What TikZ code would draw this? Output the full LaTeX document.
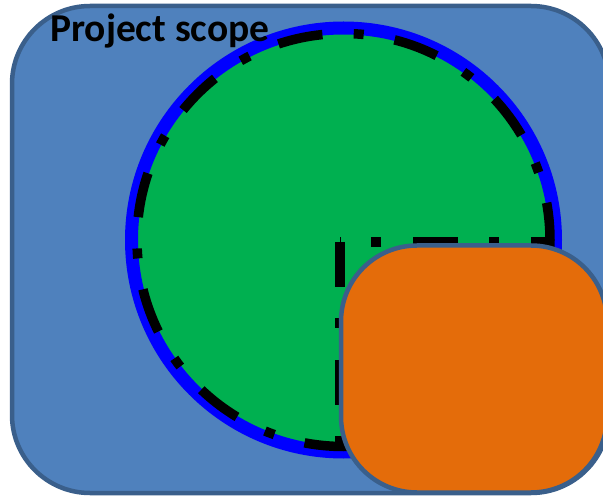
\documentclass[tikz,border=0pt]{standalone}
\usepackage{fontspec}
\setmainfont{Carlito}
\definecolor{scopefill}{HTML}{4F81BD}
\definecolor{scopeedge}{HTML}{3A5F8B}
\definecolor{ringblue}{HTML}{0000FF}
\definecolor{discgreen}{HTML}{00B050}
\definecolor{boxorange}{HTML}{E46C0A}
\tikzset{
  scopebox/.style={fill=scopefill, draw=scopeedge, line width=4.5pt, rounded corners=78pt},
  ringline/.style={fill=discgreen, draw=ringblue, line width=13pt},
  dashdotline/.style={draw=black, line width=9.5pt, dash pattern={on 45pt off 31.35pt on 10pt off 31.35pt}},
  orangebox/.style={fill=boxorange, draw=scopeedge, line width=4.5pt, rounded corners=76pt},
  titletext/.style={font=\bfseries\fontsize{39.5}{41}\selectfont, inner sep=0pt, anchor=base west}
}
\begin{document}
\begin{tikzpicture}[x=1pt,y=-1pt]
\useasboundingbox (0,0) rectangle (603,497);
\clip (0,0) rectangle (603,497);
\fill[white] (0,0) rectangle (603,497);
% project scope
\draw[scopebox] (12,6) rectangle (609,493);
% circle
\draw[ringline] (343.5,240) circle (212);
\draw[dashdotline, dash phase=34.5pt] (343.5,240) circle (206.5);
% quadrant square
\draw[dashdotline, line width=10pt] (340,242) -- (340,446) -- (548,446) -- (548,242) -- cycle;
% orange box
\draw[orangebox] (341,245.5) rectangle (607,492.5);
% title
\node[titletext] (title) at (50,41.5) {Project scope};
\end{tikzpicture}
\end{document}
